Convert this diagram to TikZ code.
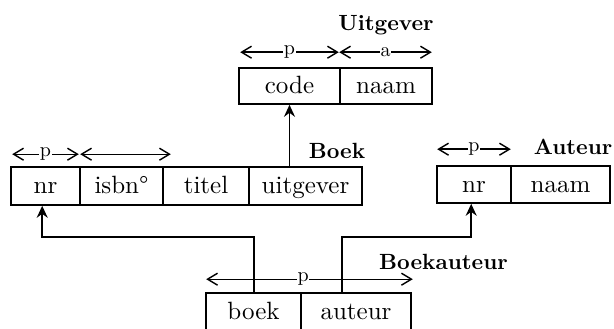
\documentclass[tikz,border=0pt]{standalone}
\usepackage{fontspec}
\setmainfont{lmroman10-regular.otf}[BoldFont=lmroman10-bold.otf]
\usetikzlibrary{arrows.meta,calc}

\tikzset{
  cell/.style={draw, line width=1.6pt, rectangle, inner sep=0pt,
    font=\fontsize{25}{29}\selectfont, text height=18pt, text depth=3pt},
  title/.style={font=\fontsize{22}{26}\selectfont\bfseries, inner sep=0pt},
  dim/.style={line width=1.4pt, {Straight Barb[length=10pt,width=12pt]}-{Straight Barb[length=10pt,width=12pt]}},
  dimlab/.style={fill=white, inner sep=0.6pt, font=\fontsize{20}{22}\selectfont},
  conn/.style={line width=1.8pt, -{Stealth[length=12pt,width=11pt,inset=4pt]}},
}

\begin{document}
\begin{tikzpicture}[x=1pt, y=-1pt]
\useasboundingbox (0,0) rectangle (614,329);

% Uitgever
\node[cell, minimum width=101pt, minimum height=36pt] (ucode) at (289.5,86) {code};
\node[cell, minimum width=92pt,  minimum height=36pt] (unaam) at (386,86) {naam};
\node[title, anchor=base] (tuitg) at (386,31) {Uitgever};
\draw[dim] ($(ucode.north west)+(2,-15)$) -- node[dimlab]{p} ($(ucode.north east)+(-2,-15)$);
\draw[dim] ($(unaam.north west)+(0,-15)$) -- node[dimlab]{a} ($(unaam.north east)+(-1,-15)$);

% Boek
\node[cell, minimum width=69pt,  minimum height=38pt] (bnr)    at (45.5,186)  {nr};
\node[cell, minimum width=83pt,  minimum height=38pt] (bisbn)  at (121.5,186) {isbn°};
\node[cell, minimum width=86pt,  minimum height=38pt] (btitel) at (206,186)   {titel};
\node[cell, minimum width=113pt, minimum height=38pt] (buitg)  at (305.5,186) {uitgever};
\node[title, anchor=base] (tboek) at (337,158) {Boek};
\draw[dim] ($(bnr.north west)+(2,-12)$) -- node[dimlab]{p} ($(bnr.north east)+(-2,-12)$);
\draw[dim] ($(bisbn.north west)+(1,-12)$) -- ($(bisbn.north east)+(7,-12)$);

% Auteur
\node[cell, minimum width=74pt, minimum height=37pt] (anr)   at (474,184.5)   {nr};
\node[cell, minimum width=99pt, minimum height=37pt] (anaam) at (560.5,184.5) {naam};
\node[title, anchor=base east] (taut) at (612.5,154) {Auteur};
\draw[dim] ($(anr.north west)+(1,-16)$) -- node[dimlab]{p} ($(anr.north east)+(-1,-16)$);

% Boekauteur
\node[cell, minimum width=95pt,  minimum height=38pt] (kboek) at (253.5,312) {boek};
\node[cell, minimum width=110pt, minimum height=38pt] (kaut)  at (356,312)   {auteur};
\node[title, anchor=base] (tbka) at (443.5,269) {Boekauteur};
\draw[dim] ($(kboek.north west)+(1,-13)$) -- node[dimlab, pos=0.47]{p} ($(kaut.north east)+(1,-13)$);

% references
\draw[conn] (ucode.south |- buitg.north) -- (ucode.south);
\draw[conn] ($(kboek.north west)+(49,0)$) -- ++(0,-55) -| ($(bnr.south west)+(32,0)$);
\draw[conn] ($(kaut.north west)+(42,0)$) -- ++(0,-55) -| ($(anr.south west)+(35,0)$);
\end{tikzpicture}
\end{document}
